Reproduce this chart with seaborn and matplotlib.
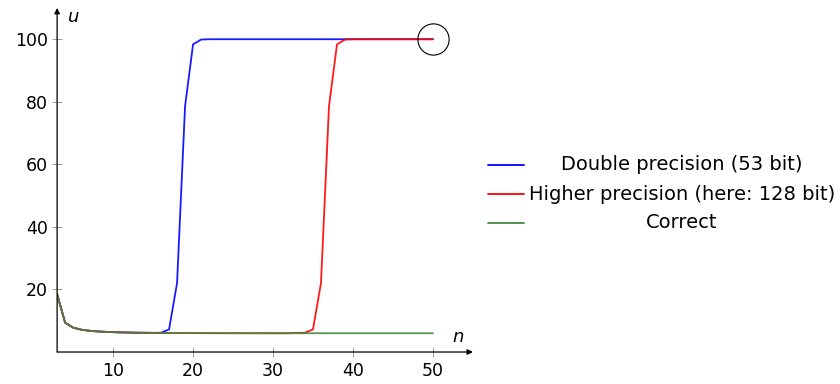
import matplotlib
matplotlib.use('Agg')
import matplotlib.pyplot as plt
from matplotlib.lines import Line2D
import numpy as np
import pandas as pd
import seaborn as sns

# values (Muller recurrence)
n_values = list(range(3, 51))
correct = [18.5, 9.378, 7.801, 7.154, 6.807, 6.593, 6.449, 6.348, 6.274, 6.219,
           6.176, 6.143, 6.116, 6.095, 6.078, 6.064, 6.053, 6.043, 6.036, 6.029,
           6.024, 6.019, 6.016, 6.013, 6.011, 6.009, 6.007, 6.006, 6.005, 6.004,
           6.003, 6.003, 6.002, 6.002, 6.002, 6.001, 6.001, 6.001, 6.001, 6.001,
           6.000, 6.000, 6.000, 6.000, 6.000, 6.000, 6.000, 6.000]
double_prec = [18.5, 9.378, 7.801, 7.154, 6.807, 6.593, 6.449, 6.348, 6.274, 6.219,
               6.176, 6.143, 6.120, 6.166, 7.235, 22.06, 78.58, 98.35, 99.90, 99.99,
               100.0, 100.0, 100.0, 100.0, 100.0, 100.0, 100.0, 100.0, 100.0, 100.0,
               100.0, 100.0, 100.0, 100.0, 100.0, 100.0, 100.0, 100.0, 100.0, 100.0,
               100.0, 100.0, 100.0, 100.0, 100.0, 100.0, 100.0, 100.0]
higher_prec = [18.5, 9.378, 7.801, 7.154, 6.807, 6.593, 6.449, 6.348, 6.274, 6.219,
               6.176, 6.143, 6.116, 6.095, 6.078, 6.064, 6.053, 6.043, 6.036, 6.029,
               6.024, 6.019, 6.016, 6.013, 6.011, 6.009, 6.007, 6.006, 6.005, 6.004,
               6.120, 6.166, 7.235, 22.06, 78.58, 98.35, 99.90, 99.99, 100.0, 100.0,
               100.0, 100.0, 100.0, 100.0, 100.0, 100.0, 100.0, 100.0]
labels = ['Double precision (53 bit)', 'Higher precision (here: 128 bit)', 'Correct']
colors = ['#0000ff', '#ff0000', '#3f8a3f']
x_ticks = [10, 20, 30, 40, 50]
y_ticks = [20, 40, 60, 80, 100]

df = pd.concat([
    pd.DataFrame({'n': n_values, 'u': double_prec, 'method': labels[0]}),
    pd.DataFrame({'n': n_values, 'u': higher_prec, 'method': labels[1]}),
    pd.DataFrame({'n': n_values, 'u': correct, 'method': labels[2]}),
])

sns.set_style('white')
plt.rcParams['font.family'] = ['DejaVu Sans']
plt.rcParams['text.color'] = 'black'

fig = plt.figure(figsize=(8.4, 3.84), dpi=100)
ax = fig.add_axes([0.068, 0.0833, 0.495, 0.896])

sns.lineplot(data=df, x='n', y='u', hue='method', palette=dict(zip(labels, colors)),
             linewidth=1.3, alpha=0.9, legend=False, ax=ax)

# the circle around the limit point
ax.plot([50], [100], marker='o', markersize=22.5, mfc='none', mec='black', mew=0.8,
        clip_on=False)

ax.set_xlim(3, 55)
ax.set_ylim(0, 110)
ax.set_xticks(x_ticks)
ax.set_yticks(y_ticks)
ax.tick_params(axis='both', bottom=True, left=True, direction='inout', length=7,
               width=0.6, color='#888888', labelcolor='black', labelsize=12.5, pad=3)
ax.tick_params(axis='x', pad=4)
ax.set_xlabel('')
ax.set_ylabel('')

for s in ['top', 'right', 'left', 'bottom']:
    ax.spines[s].set_visible(False)
ax.annotate('', xy=(1, 0), xytext=(0, 0), xycoords='axes fraction',
            arrowprops=dict(arrowstyle='-|>', color='black', lw=0.9, mutation_scale=8,
                            shrinkA=0, shrinkB=0))
ax.annotate('', xy=(0, 1), xytext=(0, 0), xycoords='axes fraction',
            arrowprops=dict(arrowstyle='-|>', color='black', lw=0.9, mutation_scale=8,
                            shrinkA=0, shrinkB=0))

ax.text(0.025, 0.975, 'u', transform=ax.transAxes, fontsize=13, style='italic',
        ha='left', va='center')
ax.text(0.965, 0.045, 'n', transform=ax.transAxes, fontsize=13, style='italic',
        ha='center', va='center')

# legend, text centred as in the original
leg_y = [1 - 165 / 384, 1 - 194 / 384, 1 - 223 / 384]
for lab, col, y in zip(labels, colors, leg_y):
    fig.add_artist(Line2D([488 / 840, 524 / 840], [y, y], color=col, lw=1.3))
    fig.text(682 / 840, y, lab, fontsize=14, ha='center', va='center')

fig.savefig('out.png', dpi=100)
